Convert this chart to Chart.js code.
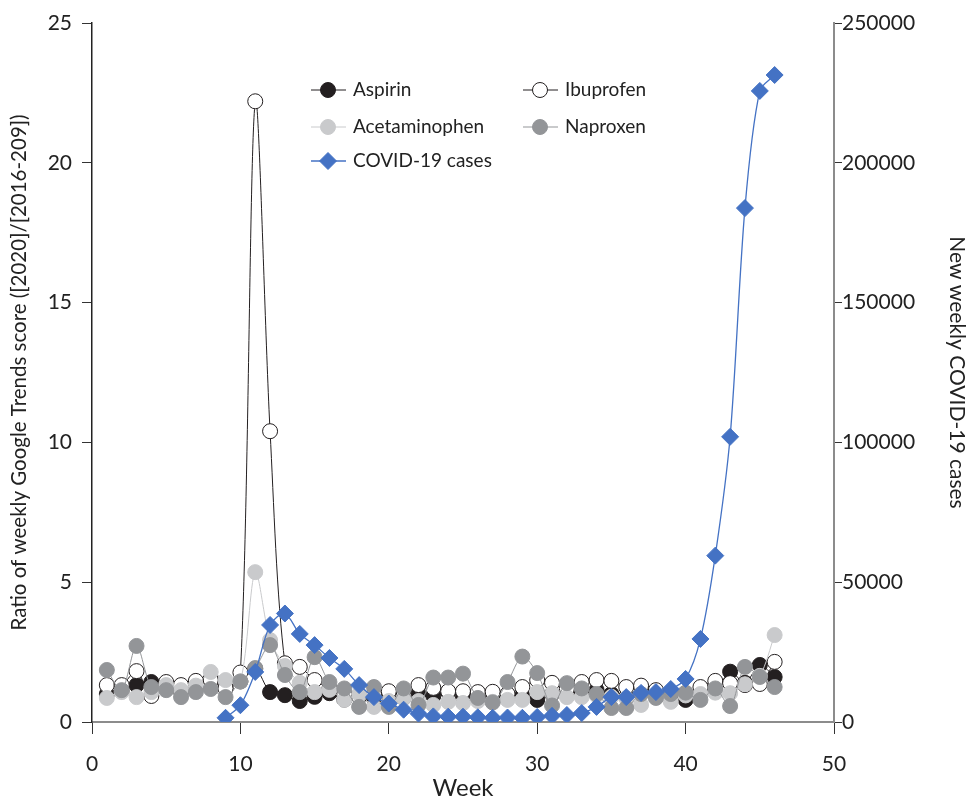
<!DOCTYPE html>
<html>
<head>
<meta charset="utf-8">
<script src="https://cdn.jsdelivr.net/npm/chart.js@4.4.1/dist/chart.umd.min.js"></script>
<style>
  html, body { margin: 0; padding: 0; background: #fff; }
</style>
</head>
<body>
<canvas id="myChart" width="968" height="800"></canvas>
<script>
var FONT = 'Lato, "Open Sans", sans-serif';

// week numbers
var weeks = [1, 2, 3, 4, 5, 6, 7, 8, 9, 10, 11, 12, 13, 14, 15, 16, 17, 18, 19, 20, 21, 22, 23,
             24, 25, 26, 27, 28, 29, 30, 31, 32, 33, 34, 35, 36, 37, 38, 39, 40, 41, 42, 43, 44, 45, 46];

// ratio of weekly google trends score
var aspirin = [1.0, 1.1, 1.32, 1.43, 1.2, 1.1, 1.2, 1.54, 1.2, 1.45, 1.9, 1.07, 0.96, 0.75, 0.9, 1.03,
               0.8, 0.95, 0.85, 0.8, 0.86, 1.0, 0.93, 1.07, 0.9, 0.85, 0.85, 0.9, 0.95, 0.79, 1.0, 1.0,
               1.1, 1.14, 1.0, 0.9, 1.25, 1.0, 0.95, 0.79, 1.0, 1.1, 1.8, 1.4, 2.04, 1.61];
var ibuprofen = [1.32, 1.32, 1.82, 0.93, 1.43, 1.32, 1.47, 1.5, 1.2, 1.77, 22.2, 10.4, 2.1, 1.97, 1.5, 1.2,
                 1.0, 0.9, 1.0, 1.1, 0.95, 1.32, 1.22, 1.1, 1.1, 1.07, 1.08, 1.0, 1.25, 1.5, 1.4, 1.2,
                 1.43, 1.5, 1.47, 1.25, 1.3, 1.14, 1.0, 1.0, 1.25, 1.47, 1.39, 1.32, 1.36, 2.15];
var acetaminophen = [0.86, 1.07, 0.89, 1.07, 1.32, 1.14, 1.3, 1.79, 1.5, 1.45, 5.36, 2.93, 2.0, 1.4, 1.07, 1.15,
                     0.79, 1.0, 0.54, 0.75, 0.85, 0.75, 0.61, 0.72, 0.68, 0.75, 0.72, 0.79, 0.79, 1.07, 1.03, 0.89,
                     0.89, 0.95, 0.9, 0.85, 0.61, 0.9, 0.72, 0.95, 1.0, 1.05, 1.03, 1.35, 1.65, 3.11];
var naproxen = [1.86, 1.14, 2.72, 1.25, 1.14, 0.89, 1.07, 1.18, 0.89, 1.45, 1.93, 2.75, 1.68, 1.07, 2.32, 1.43,
                1.2, 0.54, 1.25, 0.54, 1.2, 0.61, 1.59, 1.59, 1.73, 0.86, 0.7, 1.43, 2.34, 1.75, 0.59, 1.39,
                1.2, 1.0, 0.5, 0.5, 1.0, 0.86, 1.0, 1.05, 0.79, 1.2, 0.57, 1.97, 1.61, 1.25];
// new weekly covid-19 cases (none before week 9)
var covidCases = [null, null, null, null, null, null, null, null, 1500, 6000, 17900, 34700, 38800, 31500, 27500, 22900,
                  19000, 13200, 8900, 6600, 4400, 3000, 2000, 1900, 1900, 1700, 1500, 1600, 1500, 1800, 2200, 2500,
                  3200, 5400, 8900, 8900, 10400, 10700, 11800, 15400, 29700, 59500, 102000, 183800, 225700, 231400];

function pts(values) {
    return weeks.map(function (w, i) { return { x: w, y: values[i] }; });
}

function circleSet(label, values, fill, border, lineColor, order) {
    return {
        label: label,
        data: pts(values),
        yAxisID: 'y',
        borderColor: lineColor,
        borderWidth: 1,
        backgroundColor: fill,
        pointBackgroundColor: fill,
        pointBorderColor: border,
        pointBorderWidth: 1,
        pointRadius: 7.5,
        pointStyle: 'circle',
        tension: 0.3,
        order: order
    };
}

var datasets = [
    circleSet('Aspirin', aspirin, '#231f20', '#231f20', '#231f20', 5),
    circleSet('Ibuprofen', ibuprofen, '#ffffff', '#231f20', '#231f20', 4),
    circleSet('Acetaminophen', acetaminophen, '#c9cacc', '#c9cacc', '#c9cacc', 3),
    circleSet('Naproxen', naproxen, '#939598', '#939598', '#939598', 2),
    {
        label: 'COVID-19 cases',
        data: pts(covidCases),
        yAxisID: 'y2',
        borderColor: '#4472c4',
        borderWidth: 1.3,
        backgroundColor: '#4472c4',
        pointBackgroundColor: '#4472c4',
        pointBorderColor: '#4472c4',
        pointBorderWidth: 1,
        pointRadius: 8.5,
        pointStyle: 'rectRot',
        tension: 0.3,
        order: 1
    }
];

// legend inside the plot, two columns like the original
var legendSpots = [
    { ds: 0, x: 311, y: 90 },
    { ds: 1, x: 523, y: 90 },
    { ds: 2, x: 311, y: 127 },
    { ds: 3, x: 523, y: 127 },
    { ds: 4, x: 311, y: 161 }
];

var innerLegend = {
    id: 'innerLegend',
    afterDraw: function (chart) {
        var ctx = chart.ctx;
        legendSpots.forEach(function (it) {
            var ds = chart.data.datasets[it.ds];
            ctx.save();
            ctx.strokeStyle = ds.borderColor;
            ctx.lineWidth = ds.borderWidth;
            ctx.beginPath();
            ctx.moveTo(it.x, it.y);
            ctx.lineTo(it.x + 35, it.y);
            ctx.stroke();
            ctx.fillStyle = ds.pointBackgroundColor;
            ctx.strokeStyle = ds.pointBorderColor;
            ctx.lineWidth = ds.pointBorderWidth;
            Chart.helpers.drawPoint(ctx, {
                pointStyle: ds.pointStyle,
                radius: ds.pointRadius,
                borderWidth: ds.pointBorderWidth,
                rotation: 0
            }, it.x + 17, it.y);
            ctx.fillStyle = '#222';
            ctx.font = '19px ' + FONT;
            ctx.textBaseline = 'middle';
            ctx.textAlign = 'left';
            ctx.fillText(ds.label, it.x + 42, it.y);
            ctx.restore();
        });
    }
};

var ctx = document.getElementById('myChart').getContext('2d');
var myChart = new Chart(ctx, {
    type: 'line',
    data: { datasets: datasets },
    options: {
        responsive: false,
        animation: false,
        devicePixelRatio: 1,
        layout: { padding: { top: 23, left: 0, right: 0, bottom: 0 } },
        scales: {
            x: {
                type: 'linear',
                min: 0,
                max: 50,
                ticks: { stepSize: 10, color: '#222', font: { family: FONT, size: 21 }, padding: 18, maxRotation: 0 },
                grid: { drawOnChartArea: false, drawTicks: true, tickLength: 12, color: '#333' },
                border: { display: true, color: '#8c8c8c', width: 2 },
                title: { display: true, text: 'Week', color: '#222', font: { family: FONT, size: 24, lineHeight: 1 }, padding: { top: 0, bottom: 0 } },
                afterFit: function (s) { s.height = 78; }
            },
            y: {
                position: 'left',
                min: 0,
                max: 25,
                ticks: { stepSize: 5, color: '#222', font: { family: FONT, size: 21 }, padding: 10 },
                grid: { drawOnChartArea: false, drawTicks: true, tickLength: 10, color: '#333' },
                border: { display: true, color: '#222', width: 1.5 },
                title: { display: true, text: 'Ratio of weekly Google Trends score ([2020]/[2016-209])', color: '#222', font: { family: FONT, size: 20.5, lineHeight: 1 }, padding: { top: 9, bottom: 0 } },
                afterFit: function (s) { s.width = 92; }
            },
            y2: {
                position: 'right',
                min: 0,
                max: 250000,
                ticks: {
                    stepSize: 50000, color: '#222', font: { family: FONT, size: 21 }, padding: 0,
                    callback: function (value) { return String(value); }
                },
                grid: { drawOnChartArea: false, drawTicks: true, tickLength: 8, color: '#333' },
                border: { display: true, color: '#8c8c8c', width: 2 },
                title: { display: true, text: 'New weekly COVID-19 cases', color: '#222', font: { family: FONT, size: 21, lineHeight: 1 }, padding: { top: 1, bottom: 0 } },
                afterFit: function (s) { s.width = 134; }
            }
        },
        plugins: {
            legend: { display: false },
            tooltip: { enabled: false }
        }
    },
    plugins: [innerLegend]
});
</script>
</body>
</html>
